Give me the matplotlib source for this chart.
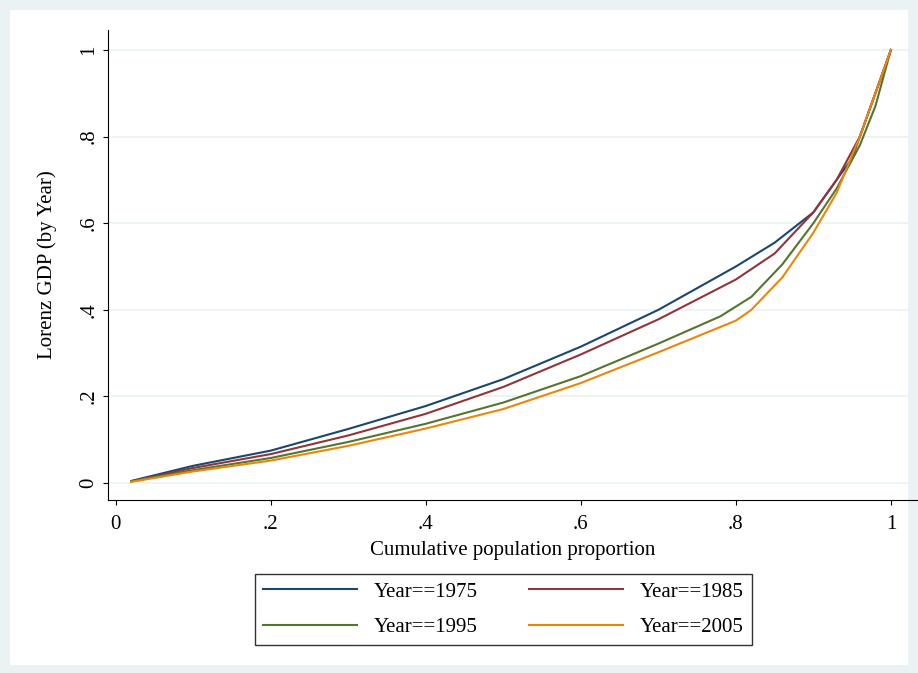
import matplotlib.pyplot as plt
from matplotlib.patches import Rectangle

plt.rcParams['font.family'] = ['Liberation Serif', 'DejaVu Serif']

x75 = [0.02, 0.1, 0.2, 0.3, 0.4, 0.5, 0.6, 0.7, 0.8, 0.85, 0.9, 0.95, 1.0]
y75 = [0.005, 0.04, 0.075, 0.125, 0.178, 0.24, 0.315, 0.4, 0.5, 0.555, 0.625, 0.75, 1.0]
x85 = [0.02, 0.1, 0.2, 0.3, 0.4, 0.5, 0.6, 0.7, 0.8, 0.85, 0.9, 0.93, 0.96, 1.0]
y85 = [0.004, 0.035, 0.067, 0.11, 0.16, 0.222, 0.297, 0.378, 0.47, 0.53, 0.625, 0.7, 0.8, 1.0]
x95 = [0.02, 0.1, 0.2, 0.3, 0.4, 0.5, 0.6, 0.7, 0.78, 0.82, 0.86, 0.9, 0.93, 0.96, 0.98, 1.0]
y95 = [0.004, 0.03, 0.058, 0.095, 0.137, 0.186, 0.247, 0.322, 0.385, 0.43, 0.505, 0.6, 0.68, 0.78, 0.87, 1.0]
x05 = [0.02, 0.1, 0.2, 0.3, 0.4, 0.5, 0.6, 0.7, 0.8, 0.82, 0.86, 0.9, 0.93, 0.96, 1.0]
y05 = [0.003, 0.027, 0.052, 0.086, 0.126, 0.171, 0.231, 0.302, 0.375, 0.4, 0.475, 0.578, 0.67, 0.8, 1.0]

ticks = [0, 0.2, 0.4, 0.6, 0.8, 1.0]
tick_labels = ["0", ".2", ".4", ".6", ".8", "1"]

fig = plt.figure(figsize=(9.18, 6.73), dpi=100)
fig.patch.set_facecolor("#eaf2f3")
fig.patches.append(Rectangle((10 / 918, 8 / 673), 898 / 918, 655 / 673,
                             transform=fig.transFigure, facecolor="white",
                             edgecolor="none", zorder=-10))

ax = fig.add_axes([108 / 918, 173 / 673, 810 / 918, 470 / 673])
ax.set_facecolor("none")
l75, = ax.plot(x75, y75, color="#1a476f", lw=1.5, label="Year==1975")
l85, = ax.plot(x85, y85, color="#90353b", lw=1.5, label="Year==1985")
l95, = ax.plot(x95, y95, color="#55752f", lw=1.5, label="Year==1995")
l05, = ax.plot(x05, y05, color="#e8870e", lw=1.5, label="Year==2005")

ax.set_xlim(-0.01, 1.035)
ax.set_ylim(-0.039, 1.046)
ax.set_xticks(ticks)
ax.set_xticklabels(tick_labels, fontsize=15)
ax.set_yticks(ticks)
ax.set_yticklabels(tick_labels, fontsize=15, rotation=90, va="center")
ax.tick_params(axis="x", pad=7)
ax.grid(axis="y", color="#eaf2f3", lw=1.2)
ax.set_axisbelow(True)
for s in ["top", "right"]:
    ax.spines[s].set_visible(False)
ax.set_xlabel("Cumulative population proportion", fontsize=15, labelpad=5)
ax.set_ylabel("Lorenz GDP (by Year)", fontsize=15, labelpad=16)

ax.legend(handles=[l75, l95, l85, l05], loc="upper center",
          bbox_to_anchor=(0.488, -0.135), ncol=2, fontsize=15,
          frameon=True, fancybox=False, edgecolor="black", handlelength=4.5,
          columnspacing=2.5, borderpad=0.4, labelspacing=0.75)

fig.savefig("out.png", dpi=100, facecolor=fig.get_facecolor())
